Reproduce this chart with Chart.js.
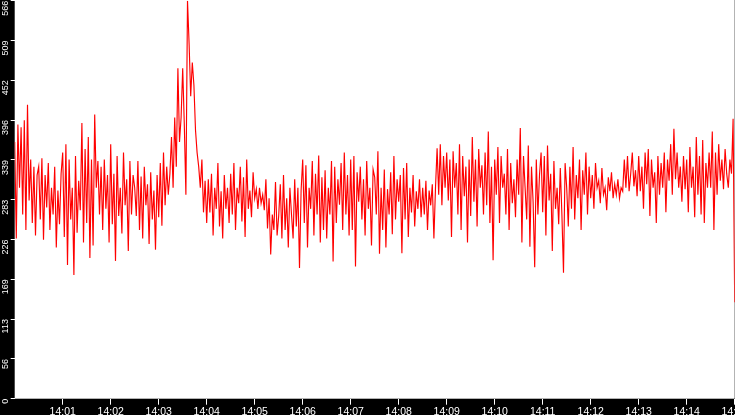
<!DOCTYPE html>
<html><head><meta charset="utf-8">
<script src="https://cdn.jsdelivr.net/npm/chart.js@4.4.1/dist/chart.umd.min.js"></script>
<style>
html,body{margin:0;padding:0;background:#000;overflow:hidden;width:735px;height:415px}
#wrap{width:770px;height:415px}
canvas{display:block}
</style></head><body><div id="wrap"><canvas id="c" width="770" height="415"></canvas></div>
<script>
// samples every 2 seconds starting 14:00:00
const sampleSeconds = 2;
const values = [
365,228,390,300,386,262,396,240,418,282,340,250,330,232,318,
330,255,342,226,318,272,335,240,300,262,330,215,296,248,320,
350,230,362,190,340,255,300,176,345,236,310,268,392,222,355,
250,372,200,340,218,404,300,338,262,330,240,340,270,318,222,
362,248,320,196,345,260,300,235,350,275,312,210,338,262,318,
300,260,338,240,316,228,330,275,305,220,322,255,296,212,318,
258,335,246,350,275,330,290,320,372,300,400,330,470,365,400,
470,390,290,566,505,430,478,446,382,350,330,300,340,265,310,
250,312,265,320,232,300,270,335,245,295,228,318,270,300,250,
320,262,335,240,300,278,330,252,315,230,340,270,296,258,322,
285,298,270,300,278,290,268,312,242,285,205,262,240,308,232,
260,305,228,318,240,285,215,300,262,228,312,245,300,186,296,
340,250,332,215,300,270,338,232,320,262,346,222,315,240,325,
228,300,262,338,195,330,250,312,276,335,240,350,262,318,232,
340,240,345,188,322,280,330,255,312,232,338,270,300,218,326,
315,262,352,206,300,240,326,215,298,262,322,234,345,255,312,
280,318,207,328,255,335,230,300,265,318,245,295,270,312,258,
300,262,310,240,296,275,305,228,300,356,290,362,275,345,300,
350,282,340,230,352,300,335,262,362,240,345,288,330,222,340,
260,372,280,340,245,355,300,332,262,350,275,380,250,330,197,
340,290,358,250,345,300,320,262,355,240,335,278,312,258,340,
290,385,222,345,300,255,360,216,330,280,187,340,262,318,350,
265,345,232,360,282,320,210,338,270,300,248,328,262,179,335,
300,245,330,270,358,255,318,285,340,240,325,290,350,262,330,
285,318,270,335,300,310,278,328,290,300,268,315,295,322,285,
305,290,312,285,300,295,340,300,345,295,320,350,302,325,288,
345,295,330,270,350,305,355,260,340,300,322,250,345,290,335,
300,350,265,340,310,362,290,384,312,350,300,330,280,345,298,
340,265,358,300,330,258,372,290,345,262,368,250,335,300,350,
300,380,240,350,290,362,310,340,298,355,320,300,340,320,398,
137
];
const xTickLabels = ['14:01','14:02','14:03','14:04','14:05','14:06','14:07','14:08','14:09','14:10','14:11','14:12','14:13','14:14','14:15'];
const yTickLabels = [0,56,113,169,226,283,339,396,452,509,566];
const yMax = 566;
const xMax = 900;

const bg = {
  id: 'bg',
  beforeDraw(chart) {
    const {ctx, chartArea: a} = chart;
    ctx.save();
    ctx.fillStyle = '#000';
    ctx.fillRect(0, 0, chart.width, chart.height);
    ctx.fillStyle = '#fff';
    ctx.fillRect(a.left, 0, a.right - a.left, a.bottom);
    ctx.restore();
  }
};

new Chart(document.getElementById('c'), {
  type: 'line',
  data: {
    datasets: [{
      data: values.map((v, i) => ({x: i * sampleSeconds, y: v})),
      borderColor: '#ff0000',
      borderWidth: 1.15,
      pointRadius: 0,
      tension: 0,
      fill: false
    }]
  },
  options: {
    responsive: false,
    devicePixelRatio: 1,
    animation: false,
    events: [],
    layout: {padding: {top: 0.7, right: 35.3, left: 0, bottom: 0}},
    plugins: {legend: {display: false}, tooltip: {enabled: false}},
    scales: {
      x: {
        type: 'linear', min: 0, max: xMax,
        afterBuildTicks: s => { s.ticks = xTickLabels.map((_, i) => ({value: (i + 1) * 60})); },
        afterFit: s => { s.height = 16.3; s.paddingLeft = 0; s.paddingRight = 0; },
        grid: {drawOnChartArea: false, drawTicks: true, tickLength: 6, color: '#fff', lineWidth: 1},
        border: {display: false},
        ticks: {
          color: '#fff', padding: 1, autoSkip: false, maxRotation: 0, minRotation: 0,
          font: {family: 'Liberation Sans', size: 10.5},
          callback: (v) => xTickLabels[Math.round(v / 60) - 1]
        }
      },
      y: {
        type: 'linear', min: 0, max: yMax,
        afterBuildTicks: s => { s.ticks = yTickLabels.map((_, i) => ({value: i * yMax / 10})); },
        afterFit: s => { s.width = 14.7; s.paddingTop = 0; s.paddingBottom = 0; },
        grid: {drawOnChartArea: false, drawTicks: true, tickLength: 4, color: '#fff', lineWidth: 1},
        border: {display: false},
        ticks: {
          color: '#fff', padding: 5, autoSkip: false, minRotation: 90, maxRotation: 90,
          font: {family: 'Liberation Sans', size: 9},
          callback: (v, i) => yTickLabels[i]
        }
      }
    }
  },
  plugins: [bg]
});
</script></body></html>
